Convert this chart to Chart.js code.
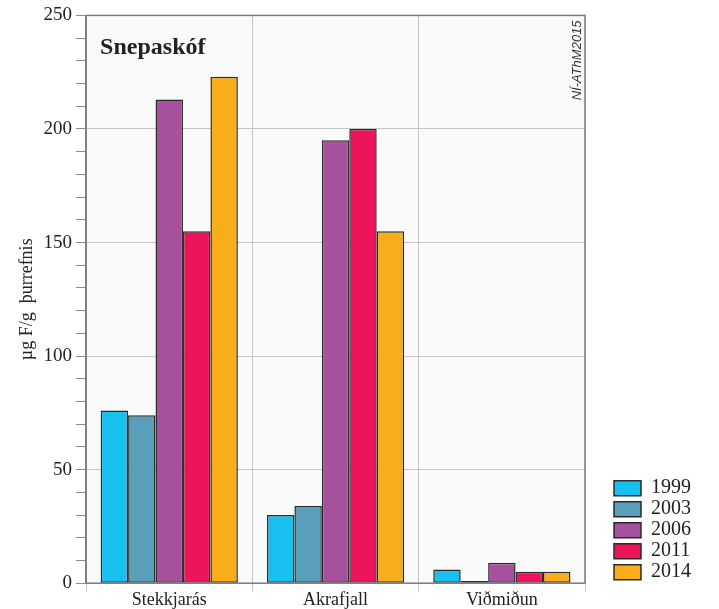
<!DOCTYPE html>
<html>
<head>
<meta charset="utf-8">
<script src="https://cdn.jsdelivr.net/npm/chart.js@4"></script>
<style>
  html, body { margin: 0; padding: 0; background: #fff; }
  #wrap { width: 719px; height: 609px; }
</style>
</head>
<body>
<div id="wrap"><canvas id="chart" width="719" height="609"></canvas></div>
<script>
// data
var sites = ["Stekkjarás", "Akrafjall", "Viðmiðun"];
var years = ["1999", "2003", "2006", "2011", "2014"];
var v1999 = [76, 30, 6];
var v2003 = [74, 34, 1];
var v2006 = [213, 195, 9];
var v2011 = [155, 200, 5];
var v2014 = [223, 155, 5];
var colors = ["#17c0ef", "#5a9fba", "#a5519e", "#ee1459", "#f8ae1b"];

var serif = "'Liberation Serif', 'Times New Roman', serif";

var series = [v1999, v2003, v2006, v2011, v2014];
var datasets = series.map(function (vals, i) {
    return {
        label: years[i],
        data: vals,
        backgroundColor: colors[i],
        borderColor: "#2b2b2b",
        borderWidth: 1.5,
        borderSkipped: false
    };
});

// plot background, frame, title and stamp
var decor = {
    id: "decor",
    beforeDraw: function (chart) {
        var a = chart.chartArea, ctx = chart.ctx;
        ctx.save();
        ctx.fillStyle = "#fafafa";
        ctx.fillRect(a.left, a.top, a.right - a.left, a.bottom - a.top);
        ctx.restore();
    },
    afterDraw: function (chart) {
        var a = chart.chartArea, ctx = chart.ctx;
        ctx.save();
        ctx.strokeStyle = "#7d7d7d";
        ctx.lineWidth = 1.5;
        ctx.strokeRect(a.left, a.top, a.right - a.left, a.bottom - a.top);

        ctx.fillStyle = "#222";
        ctx.font = "bold 24px " + serif;
        ctx.textBaseline = "middle";
        ctx.fillText("Snepaskóf", a.left + 14, a.top + 32);

        ctx.translate(a.right - 8, a.top + 5);
        ctx.rotate(-Math.PI / 2);
        ctx.font = "italic 13px 'Liberation Sans', Arial, sans-serif";
        ctx.textAlign = "right";
        ctx.textBaseline = "middle";
        ctx.fillStyle = "#333";
        ctx.fillText("NÍ-AThM2015", 0, 0);
        ctx.restore();
    }
};

new Chart(document.getElementById("chart"), {
    type: "bar",
    data: { labels: sites, datasets: datasets },
    plugins: [decor],
    options: {
        responsive: false,
        animation: false,
        layout: { padding: { left: 16, right: 18, top: 7, bottom: 0 } },
        datasets: {
            bar: { categoryPercentage: 0.825, barPercentage: 1.0 }
        },
        plugins: {
            tooltip: { enabled: false },
            legend: {
                position: "right",
                align: "end",
                fullSize: false,
                labels: {
                    boxWidth: 27,
                    boxHeight: 15,
                    padding: 1,
                    color: "#222",
                    font: { family: serif, size: 20 }
                }
            }
        },
        scales: {
            x: {
                grid: {
                    offset: true,
                    color: "#c4c4c4",
                    tickLength: 8,
                    lineWidth: 1
                },
                border: { display: false },
                ticks: {
                    color: "#222",
                    padding: -1,
                    font: { family: serif, size: 18, lineHeight: 1.1 }
                }
            },
            y: {
                min: 0,
                max: 250,
                border: { color: "#7d7d7d", width: 1.5 },
                grid: {
                    tickLength: 10,
                    color: function (c) {
                        return c.tick && c.tick.value % 50 === 0 ? "#c4c4c4" : "rgba(0,0,0,0)";
                    },
                    tickColor: "#8a8a8a"
                },
                ticks: {
                    stepSize: 10,
                    autoSkip: false,
                    padding: 4,
                    color: "#222",
                    font: { family: serif, size: 19 },
                    callback: function (v) { return v % 50 === 0 ? v : ""; }
                },
                title: {
                    display: true,
                    text: "µg F/g  þurrefnis",
                    color: "#222",
                    padding: { top: 0, bottom: 2 },
                    font: { family: serif, size: 18 }
                }
            },
            // empty strip between plot and legend
            gap: {
                type: "linear",
                position: "right",
                display: true,
                grid: { display: false },
                border: { display: false },
                ticks: { display: false },
                afterFit: function (s) { s.width = 28; }
            }
        }
    }
});
</script>
</body>
</html>
